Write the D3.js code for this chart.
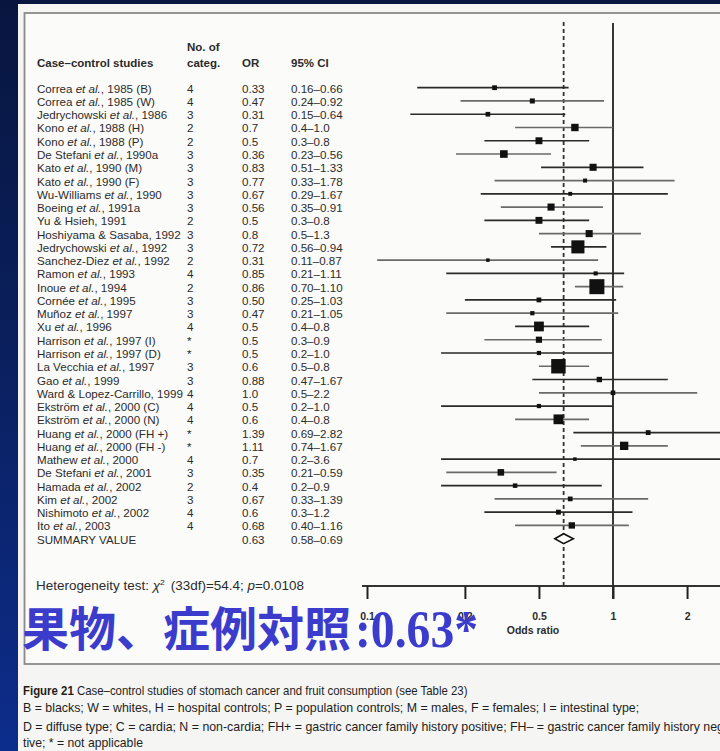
<!DOCTYPE html>
<html><head><meta charset="utf-8">
<script src="https://cdn.jsdelivr.net/npm/d3@7"></script>
<style>html,body{margin:0;padding:0;background:#0a1744;overflow:hidden}svg{display:block}</style>
</head><body><svg id="c" width="720" height="751"></svg>
<script>
// Case–control studies of stomach cancer and fruit consumption
const studies = [
  "Correa et al., 1985 (B)", "Correa et al., 1985 (W)", "Jedrychowski et al., 1986",
  "Kono et al., 1988 (H)", "Kono et al., 1988 (P)", "De Stefani et al., 1990a",
  "Kato et al., 1990 (M)", "Kato et al., 1990 (F)", "Wu-Williams et al., 1990",
  "Boeing et al., 1991a", "Yu & Hsieh, 1991", "Hoshiyama & Sasaba, 1992",
  "Jedrychowski et al., 1992", "Sanchez-Diez et al., 1992", "Ramon et al., 1993",
  "Inoue et al., 1994", "Cornée et al., 1995", "Muñoz et al., 1997", "Xu et al., 1996",
  "Harrison et al., 1997 (I)", "Harrison et al., 1997 (D)", "La Vecchia et al., 1997",
  "Gao et al., 1999", "Ward & Lopez-Carrillo, 1999", "Ekström et al., 2000 (C)",
  "Ekström et al., 2000 (N)", "Huang et al., 2000 (FH +)", "Huang et al., 2000 (FH -)",
  "Mathew et al., 2000", "De Stefani et al., 2001", "Hamada et al., 2002",
  "Kim et al., 2002", "Nishimoto et al., 2002", "Ito et al., 2003", "SUMMARY VALUE"
];
const categories = ["4","4","3","2","2","3","3","3","3","3","2","3","3","2","4","2","3",
  "3","4","*","*","3","3","4","4","4","*","*","4","3","2","3","4","4",""];
const orValues = ["0.33","0.47","0.31","0.7","0.5","0.36","0.83","0.77","0.67","0.56","0.5",
  "0.8","0.72","0.31","0.85","0.86","0.50","0.47","0.5","0.5","0.5","0.6","0.88","1.0","0.5",
  "0.6","1.39","1.11","0.7","0.35","0.4","0.67","0.6","0.68","0.63"];
const ciLow = ["0.16","0.24","0.15","0.4","0.3","0.23","0.51","0.33","0.29","0.35","0.3","0.5",
  "0.56","0.11","0.21","0.70","0.25","0.21","0.4","0.3","0.2","0.5","0.47","0.5","0.2","0.4",
  "0.69","0.74","0.2","0.21","0.2","0.33","0.3","0.40","0.58"];
const ciHigh = ["0.66","0.92","0.64","1.0","0.8","0.56","1.33","1.78","1.67","0.91","0.8","1.3",
  "0.94","0.87","1.11","1.10","1.03","1.05","0.8","0.9","1.0","0.8","1.67","2.2","1.0","0.8",
  "2.82","1.67","3.6","0.59","0.9","1.39","1.2","1.16","0.69"];
const tickValues = [0.1, 0.25, 0.5, 1, 2];
const tickLabels = ["0.1", "0.2", "0.5", "1", "2"];
const summaryOR = 0.63;
const captionLines = [
  "Case–control studies  of stomach cancer and fruit consumption (see Table 23)",
  "B = blacks; W = whites, H = hospital controls; P = population controls; M = males, F = females; I = intestinal type;",
  "D = diffuse type; C = cardia; N = non-cardia; FH+ = gastric cancer family history positive; FH– = gastric cancer family history nega",
  "tive; * = not applicable"
];

const svg = d3.select("#c");
const FONT = "'Liberation Sans', Arial, Helvetica, sans-serif";
const INK = "#2b2b2b";

// backdrop
const defs = svg.append("defs");
const bg = defs.append("linearGradient").attr("id", "bg").attr("x1", 0).attr("y1", 0).attr("x2", 0).attr("y2", 1);
bg.append("stop").attr("offset", "0").attr("stop-color", "#08163f");
bg.append("stop").attr("offset", "0.45").attr("stop-color", "#0a1f5c");
bg.append("stop").attr("offset", "1").attr("stop-color", "#0d2d8c");
svg.append("rect").attr("width", 720).attr("height", 751).attr("fill", "url(#bg)");
svg.append("rect").attr("x", 18).attr("y", 4).attr("width", 710).attr("height", 760).attr("fill", "#f5f5f3");
svg.append("rect").attr("x", 24.5).attr("y", 13).attr("width", 720).attr("height", 651)
  .attr("fill", "#fbfbfa").attr("stroke", "#8a8a8a").attr("stroke-width", 1.8);

const n = studies.length;
const rows = d3.range(n).map(i => ({
  name: studies[i], cat: categories[i], orText: orValues[i],
  or: +orValues[i], lo: +ciLow[i], hi: +ciHigh[i],
  ciText: ciLow[i] + "–" + ciHigh[i], summary: i === n - 1
}));

const x = d3.scaleLog().domain([0.1, 1]).range([367, 613]);
const y = d3.scaleLinear().domain([0, n - 1]).range([87.7, 538.7]);

// study weight from the width of the confidence interval
rows.forEach(r => { const se = (Math.log(r.hi) - Math.log(r.lo)) / 3.92; r.w = 1 / (se * se); });
const maxW = d3.max(rows.filter(r => !r.summary), r => r.w);
const side = d3.scaleSqrt().domain([0, maxW]).range([0, 15]);

// table header
const hdr = svg.append("g").attr("font-family", FONT).attr("font-weight", "bold")
  .attr("font-size", 11.5).attr("fill", INK);
hdr.append("text").attr("x", 37).attr("y", 67).text("Case–control studies");
hdr.append("text").attr("x", 187).attr("y", 51).text("No. of");
hdr.append("text").attr("x", 187).attr("y", 67).text("categ.");
hdr.append("text").attr("x", 242).attr("y", 67).text("OR");
hdr.append("text").attr("x", 291).attr("y", 67).text("95% CI");

// table body
const tbl = svg.append("g").attr("font-family", FONT).attr("font-size", 11.6).attr("fill", INK);
rows.forEach((r, i) => {
  const ty = y(i) + 5;
  const t = tbl.append("text").attr("x", 37).attr("y", ty);
  r.name.split(/(et al\.)/).filter(s => s.length).forEach(part => {
    t.append("tspan").attr("font-style", part === "et al." ? "italic" : null).text(part);
  });
  tbl.append("text").attr("x", 187).attr("y", ty).text(r.cat);
  tbl.append("text").attr("x", 242).attr("y", ty).text(r.orText);
  tbl.append("text").attr("x", 291).attr("y", ty).text(r.ciText);
});

// reference lines: null effect and pooled estimate
svg.append("line").attr("x1", x(1)).attr("x2", x(1)).attr("y1", 23).attr("y2", 599)
  .attr("stroke", "#222").attr("stroke-width", 1.8);
svg.append("line").attr("x1", x(summaryOR)).attr("x2", x(summaryOR)).attr("y1", 22).attr("y2", 586)
  .attr("stroke", "#333").attr("stroke-width", 1.8).attr("stroke-dasharray", "4,3");

// confidence intervals and point estimates
const plot = svg.append("g");
const xr = 760;
rows.filter(r => !r.summary).forEach((r, i) => {
  plot.append("line").attr("x1", x(r.lo)).attr("x2", Math.min(x(r.hi), xr))
    .attr("y1", y(i)).attr("y2", y(i))
    .attr("stroke", i % 2 ? "#6a6a6a" : "#2a2a2a").attr("stroke-width", 1.7);
  const s = Math.max(side(r.w), 3.5);
  plot.append("rect").attr("x", x(r.or) - s / 2).attr("y", y(i) - s / 2)
    .attr("width", s).attr("height", s).attr("fill", "#111");
});
const sm = rows[n - 1], sy = y(n - 1);
plot.append("path")
  .attr("d", `M${x(sm.lo)},${sy}L${x(sm.or)},${sy - 5}L${x(sm.hi)},${sy}L${x(sm.or)},${sy + 5}Z`)
  .attr("fill", "#fff").attr("stroke", "#111").attr("stroke-width", 1.6);

// odds ratio axis
const axisY = 586;
svg.append("line").attr("x1", 362).attr("x2", 730).attr("y1", axisY).attr("y2", axisY)
  .attr("stroke", "#333").attr("stroke-width", 2);
const ax = svg.append("g").attr("transform", `translate(0,${axisY})`)
  .call(d3.axisBottom(x).tickValues(tickValues).tickFormat((d, i) => tickLabels[i]).tickSize(13).tickPadding(14));
ax.select(".domain").remove();
ax.selectAll(".tick line").attr("stroke", "#222").attr("stroke-width", 2);
ax.selectAll(".tick text").attr("font-family", FONT).attr("font-weight", "bold")
  .attr("font-size", 10.5).attr("fill", INK);
svg.append("text").attr("x", 533).attr("y", 634).attr("text-anchor", "middle")
  .attr("font-family", FONT).attr("font-weight", "bold").attr("font-size", 10.5).attr("fill", INK)
  .text("Odds ratio");

// heterogeneity statistic
const het = svg.append("text").attr("x", 36).attr("y", 590).attr("font-family", FONT)
  .attr("font-size", 12.5).attr("fill", INK);
het.append("tspan").text("Heterogeneity test:   ");
het.append("tspan").attr("font-style", "italic").text("χ");
het.append("tspan").attr("font-size", 8).attr("dy", -5).text("2");
het.append("tspan").attr("dy", 5).attr("dx", 2).text(" (33df)=54.4; ");
het.append("tspan").attr("font-style", "italic").text("p");
het.append("tspan").text("=0.0108");
const hk = (302 - 36) / het.node().getComputedTextLength();
het.attr("transform", `translate(36,0) scale(${hk},1) translate(-36,0)`);

// headline
const headFill = "#3c3ccc";
svg.append("text").attr("x", 22).attr("y", 646).attr("fill", headFill).attr("font-weight", "bold")
  .attr("font-family", "'Noto Sans CJK JP', sans-serif").attr("font-size", 47).text("果物、症例対照");
svg.append("text").attr("x", 355).attr("y", 647).attr("fill", headFill).attr("font-weight", "bold")
  .attr("font-family", "'Liberation Serif', 'Times New Roman', serif").attr("font-size", 53)
  .attr("textLength", 123).attr("lengthAdjust", "spacingAndGlyphs").text(":0.63*");

// figure caption, set in a narrow face
const cap = svg.append("g").attr("font-family", FONT).attr("font-size", 12).attr("fill", "#1e1e1e");
const capY = [695, 712, 731, 747];
const capEnd = [468, 640, null, 143];
const capTexts = captionLines.map((s, i) => {
  const t = cap.append("text").attr("y", capY[i]);
  if (i === 0) t.append("tspan").attr("font-weight", "bold").text("Figure 21 ");
  t.append("tspan").text(s);
  return t;
});
const sx = (capEnd[1] - 23) / capTexts[1].node().getComputedTextLength();
capTexts.forEach((t, i) => {
  const k = capEnd[i] ? (capEnd[i] - 23) / t.node().getComputedTextLength() : sx;
  t.attr("transform", `translate(23,0) scale(${k},1)`);
});
</script></body></html>
